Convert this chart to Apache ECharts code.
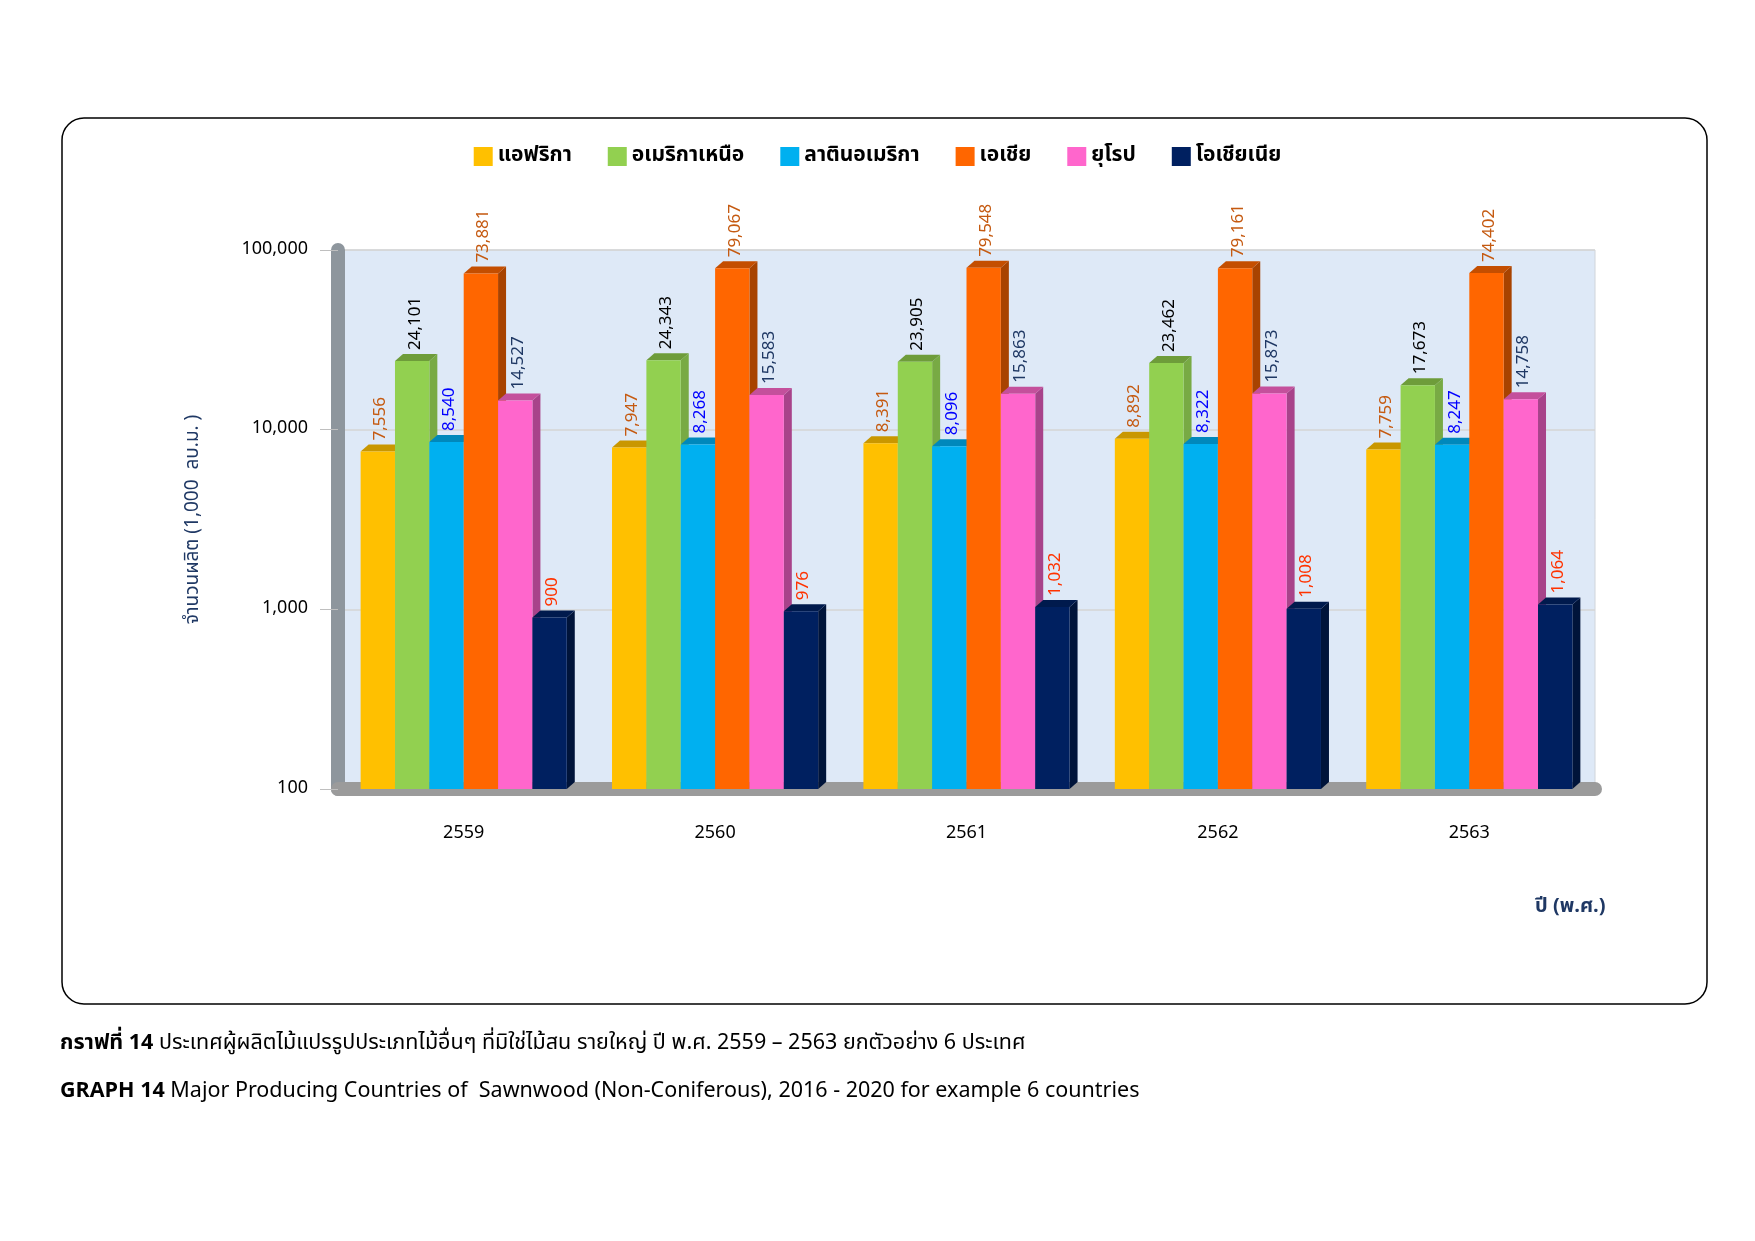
<!DOCTYPE html>
<html>
<head>
<meta charset="utf-8">
<script src="https://cdn.jsdelivr.net/npm/echarts@6/dist/echarts.min.js"></script>
<style>
  html, body { margin: 0; padding: 0; background: #fff; }
  #chart { width: 1755px; height: 1241px; }
</style>
</head>
<body>
<div id="chart"></div>
<script>
const years = ['2559', '2560', '2561', '2562', '2563'];
const regions = ['แอฟริกา', 'อเมริกาเหนือ', 'ลาตินอเมริกา', 'เอเชีย', 'ยุโรป', 'โอเชียเนีย'];

const africa = [7556, 7947, 8391, 8892, 7759];
const northAmerica = [24101, 24343, 23905, 23462, 17673];
const latinAmerica = [8540, 8268, 8096, 8322, 8247];
const asia = [73881, 79067, 79548, 79161, 74402];
const europe = [14527, 15583, 15863, 15873, 14758];
const oceania = [900, 976, 1032, 1008, 1064];

const yTicks = [100, 1000, 10000, 100000];

const values = [africa, northAmerica, latinAmerica, asia, europe, oceania];
const colors = ['#FFC000', '#92D050', '#00B0F0', '#FF6600', '#FF66CC', '#002060'];
const topColors = ['#C99700', '#6E9C3A', '#0088BB', '#C44E00', '#C4509C', '#001A4D'];
const sideColors = ['#D9A300', '#78AA44', '#0096CC', '#A84300', '#A8438A', '#00143A'];
const labelColors = ['#C55A11', '#000000', '#0000FF', '#C55A11', '#1F3864', '#FF3300'];

const font = '"Noto Sans Thai", "Noto Sans", Tahoma, sans-serif';
const fmt = v => v.toLocaleString('en-US');

// แท่งกราฟแบบ 3 มิติ (หน้า + ด้านบน + ด้านข้าง)
function makeSeries(k) {
  return {
    name: regions[k],
    type: 'custom',
    data: values[k].map((v, i) => [i, v]),
    itemStyle: { color: colors[k] },
    renderItem: function (params, api) {
      const idx = api.value(0);
      const val = api.value(1);
      const top = api.coord([idx, val]);
      const base = api.coord([idx, 100]);
      const band = api.size([1, 0])[0];
      const group = band * 0.82;
      const w = group / 6;
      const x0 = top[0] - group / 2 + k * w;
      const dx = 8, dy = -7;
      const yt = top[1], yb = base[1];
      return {
        type: 'group',
        children: [
          {
            type: 'polygon',
            shape: { points: [[x0 + w, yt], [x0 + w + dx, yt + dy], [x0 + w + dx, yb + dy], [x0 + w, yb]] },
            style: { fill: sideColors[k] }
          },
          {
            type: 'polygon',
            shape: { points: [[x0, yt], [x0 + dx, yt + dy], [x0 + w + dx, yt + dy], [x0 + w, yt]] },
            style: { fill: topColors[k] }
          },
          {
            type: 'rect',
            shape: { x: x0, y: yt, width: w, height: yb - yt },
            style: { fill: colors[k] }
          },
          {
            type: 'text',
            x: x0 + w / 2 + 4,
            y: yt + dy - 4,
            rotation: Math.PI / 2,
            style: {
              text: fmt(val),
              fill: labelColors[k],
              font: '17px ' + font,
              align: 'left',
              verticalAlign: 'middle'
            }
          }
        ]
      };
    }
  };
}

const chart = echarts.init(document.getElementById('chart'));

const option = {
  backgroundColor: '#ffffff',
  animation: false,
  legend: {
    top: 141,
    left: 'center',
    itemWidth: 19,
    itemHeight: 19,
    itemGap: 36,
    icon: 'rect',
    textStyle: { fontSize: 21, fontWeight: 'bold', color: '#000', fontFamily: font },
    data: regions.map((r, k) => ({ name: r, itemStyle: { color: colors[k] } }))
  },
  grid: {
    left: 338,
    right: 160,
    top: 250,
    bottom: 452,
    show: true,
    backgroundColor: '#DEE9F7',
    borderColor: '#D0D4DA',
    borderWidth: 1
  },
  xAxis: {
    type: 'category',
    data: years,
    axisLine: { show: true, lineStyle: { color: '#9B9B9B', width: 14 } },
    axisTick: { show: false },
    axisLabel: { fontSize: 18, color: '#000', fontFamily: font, margin: 36 }
  },
  yAxis: {
    type: 'log',
    logBase: 10,
    min: yTicks[0],
    max: yTicks[yTicks.length - 1],
    name: 'จำนวนผลิต (1,000  ลบ.ม. )',
    nameLocation: 'middle',
    nameGap: 134,
    nameRotate: 90,
    nameTextStyle: { fontSize: 19, color: '#1F3864', fontFamily: font },
    axisLine: { show: true, lineStyle: { color: '#8E969D', width: 14 } },
    axisTick: { show: true, length: 18, lineStyle: { color: '#BFBFBF' } },
    axisLabel: {
      fontSize: 18, color: '#000', fontFamily: font, margin: 30,
      formatter: v => fmt(v)
    },
    splitLine: { show: true, lineStyle: { color: '#D4D4D4', width: 1.5 } }
  },
  graphic: [
    {
      type: 'rect',
      shape: { x: 62, y: 118, width: 1645, height: 886, r: 22 },
      style: { fill: 'none', stroke: '#000', lineWidth: 1.5 },
      z: -10
    },
    {
      type: 'text',
      left: 1535,
      top: 898,
      style: { text: 'ปี (พ.ศ.)', font: 'bold 20px ' + font, fill: '#1F3864' }
    },
    {
      type: 'text',
      left: 60,
      top: 1034,
      style: {
        text: '{b|กราฟที่ 14} ประเทศผู้ผลิตไม้แปรรูปประเภทไม้อื่นๆ ที่มิใช่ไม้สน รายใหญ่ ปี พ.ศ. 2559 – 2563 ยกตัวอย่าง 6 ประเทศ',
        font: '21.5px ' + font,
        fill: '#000',
        rich: { b: { fontWeight: 'bold', fontSize: 21.5, fontFamily: font } }
      }
    },
    {
      type: 'text',
      left: 60,
      top: 1082,
      style: {
        text: '{b|GRAPH 14} Major Producing Countries of  Sawnwood (Non-Coniferous), 2016 - 2020 for example 6 countries',
        font: '21.5px ' + font,
        fill: '#000',
        rich: { b: { fontWeight: 'bold', fontSize: 21.5, fontFamily: font } }
      }
    }
  ],
  series: regions.map((r, k) => makeSeries(k))
};

chart.setOption(option);
</script>
</body>
</html>
